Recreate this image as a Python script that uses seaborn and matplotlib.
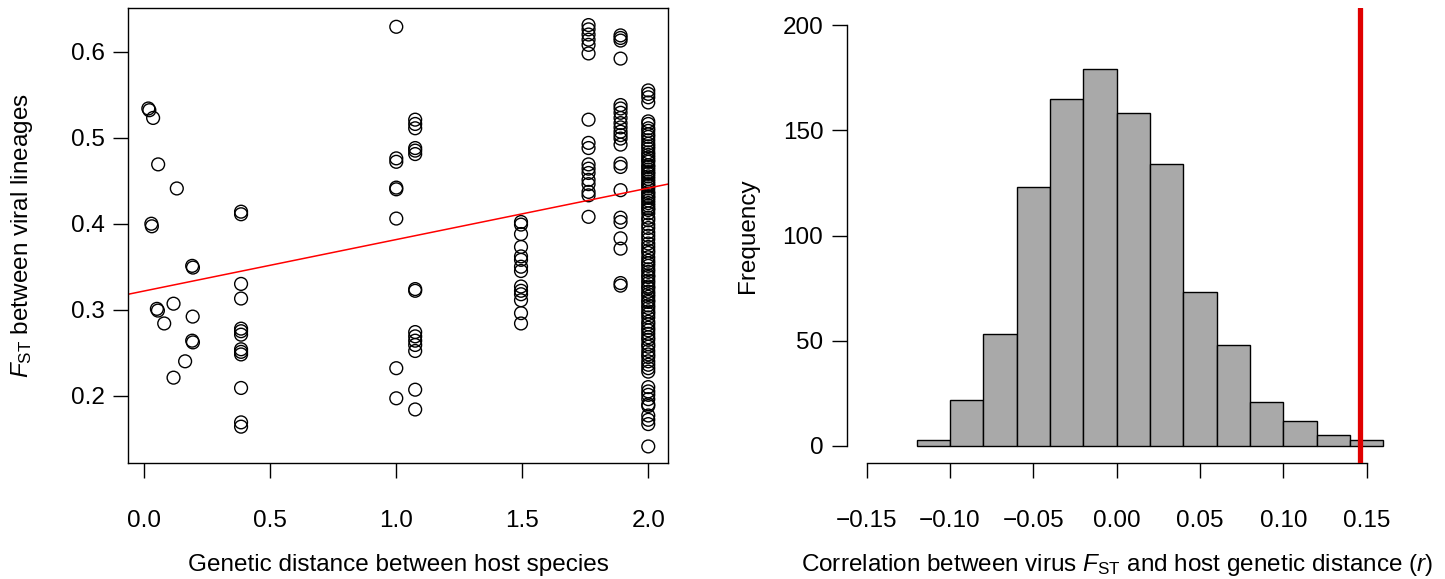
import numpy as np
import pandas as pd
import matplotlib
matplotlib.use("Agg")
import matplotlib.pyplot as plt
import seaborn as sns

# ---------------- data: left panel ----------------
# points close to zero distance (x, y pairs)
near_x = [0.016, 0.020, 0.035, 0.055, 0.129, 0.028, 0.030, 0.190, 0.193,
          0.050, 0.054, 0.116, 0.192, 0.079, 0.190, 0.193, 0.162, 0.116]
near_y = [0.534, 0.532, 0.523, 0.469, 0.441, 0.400, 0.397, 0.351, 0.349,
          0.301, 0.299, 0.307, 0.292, 0.284, 0.264, 0.262, 0.240, 0.221]

col_038 = [0.414, 0.411, 0.330, 0.313, 0.278, 0.275, 0.271, 0.254, 0.251,
           0.248, 0.209, 0.169, 0.164]
col_100 = [0.629, 0.476, 0.472, 0.442, 0.440, 0.406, 0.232, 0.197]
col_107 = [0.521, 0.516, 0.511, 0.488, 0.485, 0.481, 0.324, 0.322, 0.274,
           0.269, 0.264, 0.259, 0.252, 0.207, 0.184]
col_150 = [0.402, 0.399, 0.388, 0.373, 0.362, 0.358, 0.350, 0.345, 0.327,
           0.322, 0.318, 0.311, 0.296, 0.284]
col_176 = [0.631, 0.626, 0.620, 0.614, 0.608, 0.598, 0.521, 0.494, 0.488,
           0.469, 0.464, 0.459, 0.451, 0.446, 0.437, 0.433, 0.408]
col_189 = [0.619, 0.616, 0.613, 0.592, 0.538, 0.534, 0.529, 0.523, 0.517,
           0.512, 0.507, 0.503, 0.499, 0.492, 0.470, 0.466, 0.439, 0.407,
           0.402, 0.383, 0.371, 0.331, 0.328]
col_200 = [0.555, 0.551, 0.547, 0.541,
           0.519, 0.516, 0.511, 0.508, 0.504, 0.501, 0.497, 0.493, 0.490,
           0.487, 0.483, 0.480, 0.477, 0.474, 0.472, 0.468, 0.466, 0.463,
           0.460, 0.458, 0.455, 0.452, 0.449, 0.446, 0.444, 0.441, 0.437,
           0.435, 0.432, 0.430, 0.427, 0.424, 0.421, 0.418, 0.416, 0.412,
           0.407, 0.404, 0.399, 0.395, 0.390, 0.386, 0.382, 0.377, 0.373,
           0.369, 0.366, 0.361, 0.357, 0.354, 0.351, 0.347, 0.344, 0.340,
           0.338, 0.334, 0.331, 0.327, 0.325, 0.321, 0.318, 0.315, 0.311,
           0.309, 0.305, 0.302, 0.298, 0.295, 0.291, 0.286, 0.283, 0.279,
           0.276, 0.272, 0.268, 0.265, 0.260, 0.257, 0.252, 0.248, 0.245,
           0.240, 0.236, 0.232, 0.228,
           0.210, 0.205, 0.201, 0.196, 0.190, 0.188, 0.177, 0.172, 0.167,
           0.141]
col_positions = [0.384, 1.000, 1.075, 1.495, 1.763, 1.890, 2.000]
col_values = [col_038, col_100, col_107, col_150, col_176, col_189, col_200]

fit_intercept = 0.3218
fit_slope = 0.0598

x_ticks_left = [0.0, 0.5, 1.0, 1.5, 2.0]
y_ticks_left = [0.2, 0.3, 0.4, 0.5, 0.6]

# ---------------- data: right panel ----------------
bin_edges = [-0.12, -0.10, -0.08, -0.06, -0.04, -0.02, 0.00, 0.02, 0.04,
             0.06, 0.08, 0.10, 0.12, 0.14, 0.16]
bin_counts = [3, 22, 53, 123, 165, 179, 158, 134, 73, 48, 21, 12, 5, 3]
observed_r = 0.146

x_ticks_right = [-0.15, -0.10, -0.05, 0.00, 0.05, 0.10, 0.15]
y_ticks_right = [0, 50, 100, 150, 200]

# ---------------- build tables ----------------
xs = list(near_x)
ys = list(near_y)
for pos, vals in zip(col_positions, col_values):
    xs += [pos] * len(vals)
    ys += vals
scatter_df = pd.DataFrame({"dist": xs, "fst": ys})

centers = [(a + b) / 2 for a, b in zip(bin_edges[:-1], bin_edges[1:])]
hist_df = pd.DataFrame({"r": centers, "n": bin_counts})

# ---------------- style ----------------
sns.set_theme(style="ticks")
plt.rcParams["font.family"] = ["Liberation Sans", "DejaVu Sans"]
plt.rcParams["mathtext.fontset"] = "custom"
plt.rcParams["mathtext.rm"] = "Liberation Sans"
plt.rcParams["mathtext.it"] = "Liberation Sans:italic"
plt.rcParams["axes.unicode_minus"] = True

W, H = 1445, 579
fig = plt.figure(figsize=(W / 100, H / 100), dpi=100)
fig.patch.set_facecolor("white")

def frac(x0, y0, x1, y1):
    return [x0 / W, 1 - y1 / H, (x1 - x0) / W, (y1 - y0) / H]

ax1 = fig.add_axes(frac(128.3, 8.3, 668.3, 462.7))
ax2 = fig.add_axes(frac(846.7, 8.3, 1386.7, 462.7))

FS = 17.5
TL = 10.8  # tick length in points (~15 px)

# ---------------- left panel ----------------
sns.scatterplot(data=scatter_df, x="dist", y="fst", ax=ax1, s=85,
                marker="o", facecolor="none", edgecolor="black",
                linewidth=1.0, legend=False)
ax1.axline((0, fit_intercept), slope=fit_slope, color="#ff0000", lw=1.1,
           zorder=1)
ax1.set_xlim(-0.0635, 2.0795)
ax1.set_ylim(0.1221, 0.6505)
ax1.set_xticks(x_ticks_left)
ax1.set_xticklabels([f"{v:.1f}" for v in x_ticks_left])
ax1.set_yticks(y_ticks_left)
ax1.set_yticklabels([f"{v:.1f}" for v in y_ticks_left])
for s in ax1.spines.values():
    s.set_color("black")
    s.set_linewidth(1.0)
ax1.tick_params(axis="both", direction="out", length=TL, width=1.0,
                color="black", labelsize=FS, labelcolor="black")
ax1.tick_params(axis="x", pad=23)
ax1.tick_params(axis="y", pad=6)
ax1.set_xlabel("Genetic distance between host species", fontsize=FS,
               color="black")
ax1.set_ylabel(r"$F_{\mathrm{ST}}$ between viral lineages", fontsize=FS,
               color="black")
ax1.xaxis.set_label_coords(0.5, -0.225)
ax1.xaxis.label.set_verticalalignment("center")
ax1.yaxis.set_label_coords(-0.197, 0.5)
ax1.yaxis.label.set_verticalalignment("center")

# ---------------- right panel ----------------
sns.histplot(data=hist_df, x="r", weights="n", bins=bin_edges, ax=ax2,
             color="#a9a9a9", edgecolor="black", linewidth=1.0, alpha=1.0,
             legend=False)
ax2.axvline(observed_r, color="#e00000", lw=3.8, zorder=5)
ax2.set_xlim(-0.162, 0.162)
ax2.set_ylim(-8.0, 208.0)
ax2.set_xticks(x_ticks_right)
ax2.set_xticklabels([f"{v:.2f}".replace("-", "\u2212") for v in x_ticks_right])
ax2.set_yticks(y_ticks_right)
ax2.set_yticklabels([str(v) for v in y_ticks_right])
ax2.spines["top"].set_visible(False)
ax2.spines["right"].set_visible(False)
ax2.spines["left"].set_bounds(0, 200)
ax2.spines["bottom"].set_bounds(-0.15, 0.15)
for s in ("left", "bottom"):
    ax2.spines[s].set_color("black")
    ax2.spines[s].set_linewidth(1.0)
ax2.tick_params(axis="both", direction="out", length=TL, width=1.0,
                color="black", labelsize=FS, labelcolor="black")
ax2.tick_params(axis="x", pad=23)
ax2.tick_params(axis="y", pad=6)
ax2.set_xlabel(r"Correlation between virus $F_{\mathrm{ST}}$ and host genetic distance ($r$)",
               fontsize=FS, color="black")
ax2.set_ylabel("Frequency", fontsize=FS, color="black")
ax2.xaxis.set_label_coords(0.5, -0.225)
ax2.xaxis.label.set_verticalalignment("center")
ax2.yaxis.set_label_coords(-0.183, 0.5)
ax2.yaxis.label.set_verticalalignment("center")

fig.savefig("out.png", dpi=100, facecolor="white")
